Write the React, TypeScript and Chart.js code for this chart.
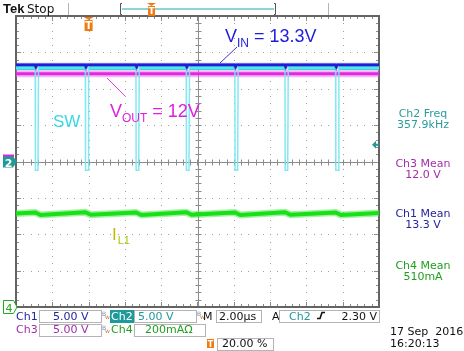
import React, { useEffect, useRef } from "react";
import { Chart, registerables } from "chart.js";
Chart.register(...registerables);

// ---- axes (time in µs, trigger at 0, 2 µs/div, 10 divisions) ----
const timeMin = -4;
const timeMax = 16;
const divMin = -4;
const divMax = 4;
const voltsPerDiv = 5; // Ch1, Ch2, Ch3
const mAPerDiv = 200; // Ch4
const ch4GroundDiv = -4;

// ---- Ch2 (SW node) edges ----
const swRiseTimes = [-2.76, 0, 2.79, 5.56, 8.24, 11.0, 13.79];
const swFallTimes = [-2.94, -0.18, 2.61, 5.38, 8.06, 10.82, 13.61];
const swHighV = 12.85;
const swLowV = -1.2;

// ---- Ch1 (VIN), Ch3 (VOUT) levels ----
const vinV = 13.3;
const vinNotchV = 13.0;
const voutV = 12.05;

// ---- Ch4 (IL1) sawtooth, mA ----
const ilStart = 514;
const ilPeaks = [520, 521, 520, 521, 520, 521, 520];
const ilTroughs = [506, 507, 506, 507, 506, 507, 506];
const ilEnd = 517;

// ---- readouts ----
const measLabels = ["Ch2 Freq", "Ch3 Mean", "Ch1 Mean", "Ch4 Mean"];
const measValues = ["357.9kHz", "12.0 V", "13.3 V", "510mA"];
const measColors = ["#2a9c9c", "#a42ca8", "#24249c", "#20a020"];

const vdiv = (v: number) => v / voltsPerDiv;
const idiv = (mA: number) => mA / mAPerDiv + ch4GroundDiv;

function buildSW() {
  const pts: any[] = [{ x: timeMin, y: vdiv(swHighV) }];
  swRiseTimes.forEach((r, i) => {
    const f = swFallTimes[i];
    pts.push({ x: f, y: vdiv(swHighV) });
    pts.push({ x: f + 0.01, y: vdiv(swLowV) });
    pts.push({ x: r - 0.03, y: vdiv(swLowV) });
    pts.push({ x: r, y: vdiv(swHighV) });
  });
  pts.push({ x: timeMax, y: vdiv(swHighV) });
  return pts;
}
function buildSWBand() {
  const pts: any[] = [{ x: timeMin, y: vdiv(swHighV) }];
  swRiseTimes.forEach((r, i) => {
    const f = swFallTimes[i];
    pts.push({ x: f, y: vdiv(swHighV) });
    pts.push({ x: (f + r) / 2, y: null });
    pts.push({ x: r, y: vdiv(swHighV) });
  });
  pts.push({ x: timeMax, y: vdiv(swHighV) });
  return pts;
}
function buildVIN() {
  const pts: any[] = [{ x: timeMin, y: vdiv(vinV) }];
  swFallTimes.forEach((f) => {
    pts.push({ x: f - 0.02, y: vdiv(vinV) });
    pts.push({ x: f + 0.04, y: vdiv(vinNotchV) });
    pts.push({ x: f + 0.1, y: vdiv(vinV) });
  });
  pts.push({ x: timeMax, y: vdiv(vinV) });
  return pts;
}
function buildVOUT() {
  return [
    { x: timeMin, y: vdiv(voutV) },
    { x: timeMax, y: vdiv(voutV) },
  ];
}
function buildIL() {
  const pts: any[] = [{ x: timeMin, y: idiv(ilStart) }];
  swFallTimes.forEach((f, i) => {
    pts.push({ x: f, y: idiv(ilPeaks[i]) });
    pts.push({ x: swRiseTimes[i] + 0.12, y: idiv(ilTroughs[i]) });
  });
  pts.push({ x: timeMax, y: idiv(ilEnd) });
  return pts;
}

const ds = (data: any[], color: string, width: number) => ({
  data,
  borderColor: color,
  borderWidth: width,
  pointRadius: 0,
  tension: 0,
  fill: false,
  spanGaps: false,
});

const scopePlugin = {
  id: "scope",
  beforeDatasetsDraw(chart: any) {
    const ctx = chart.ctx as CanvasRenderingContext2D;
    const { left, right, top, bottom } = chart.chartArea;
    const dx = (right - left) / 10;
    const dy = (bottom - top) / 8;
    ctx.save();
    ctx.fillStyle = "#ffffff";
    ctx.fillRect(0, 0, chart.width, chart.height);
    // dotted grid
    ctx.fillStyle = "#a0a0a0";
    for (let i = 1; i < 10; i++) {
      if (i === 5) continue;
      const x = Math.round(left + i * dx);
      for (let j = 1; j < 40; j++) {
        const y = Math.round(top + (j * dy) / 5);
        ctx.fillRect(x, y, 1, 1);
      }
    }
    for (let j = 1; j < 8; j++) {
      if (j === 4) continue;
      const y = Math.round(top + j * dy);
      for (let i = 1; i < 50; i++) {
        const x = Math.round(left + (i * dx) / 5);
        ctx.fillRect(x, y, 1, 1);
      }
    }
    // center cross with ticks
    ctx.strokeStyle = "#8c8c8c";
    ctx.lineWidth = 1;
    const cx = Math.round(left + 5 * dx) + 0.5;
    const cy = Math.round(top + 4 * dy) + 0.5;
    ctx.beginPath();
    ctx.moveTo(cx, top);
    ctx.lineTo(cx, bottom);
    ctx.moveTo(left, cy);
    ctx.lineTo(right, cy);
    for (let j = 1; j < 40; j++) {
      const y = Math.round(top + (j * dy) / 5) + 0.5;
      ctx.moveTo(cx - 3, y);
      ctx.lineTo(cx + 3, y);
    }
    for (let i = 1; i < 50; i++) {
      const x = Math.round(left + (i * dx) / 5) + 0.5;
      ctx.moveTo(x, cy - 3);
      ctx.lineTo(x, cy + 3);
    }
    // border ticks
    for (let i = 1; i < 50; i++) {
      const x = Math.round(left + (i * dx) / 5) + 0.5;
      const len = i % 5 === 0 ? 4 : 2;
      ctx.moveTo(x, top);
      ctx.lineTo(x, top + len + 1);
      ctx.moveTo(x, bottom);
      ctx.lineTo(x, bottom - len - 1);
    }
    for (let j = 1; j < 40; j++) {
      const y = Math.round(top + (j * dy) / 5) + 0.5;
      const len = j % 5 === 0 ? 4 : 2;
      ctx.moveTo(left, y);
      ctx.lineTo(left + len + 1, y);
      ctx.moveTo(right, y);
      ctx.lineTo(right - len - 1, y);
    }
    ctx.stroke();
    // frame
    ctx.strokeStyle = "#646464";
    ctx.lineWidth = 2;
    ctx.strokeRect(left, top, right - left, bottom - top);
    ctx.restore();
  },
  afterDraw(chart: any) {
    const ctx = chart.ctx as CanvasRenderingContext2D;
    const xs = chart.scales.x;
    const ys = chart.scales.y;
    const { top } = chart.chartArea;
    ctx.save();
    const txt = (s: string, x: number, y: number, color: string, font: string, align: CanvasTextAlign = "left") => {
      ctx.font = font;
      ctx.fillStyle = color;
      ctx.textAlign = align;
      ctx.textBaseline = "alphabetic";
      ctx.fillText(s, x, y);
      return ctx.measureText(s).width;
    };
    const sans = '"DejaVu Sans", Verdana, sans-serif';
    const arial = '"Liberation Sans", Arial, sans-serif';

    // ---- header ----
    txt("Tek", 3, 13, "#111", "bold 13px " + arial);
    txt("Stop", 27, 13, "#111", "12px " + sans);
    ctx.strokeStyle = "#b4b4b4";
    ctx.lineWidth = 1;
    ctx.beginPath();
    ctx.moveTo(68.5, 3);
    ctx.lineTo(68.5, 15);
    ctx.moveTo(328.5, 3);
    ctx.lineTo(328.5, 15);
    ctx.stroke();
    // record bracket
    ctx.strokeStyle = "#555";
    ctx.beginPath();
    ctx.moveTo(122, 3.5);
    ctx.lineTo(120.5, 3.5);
    ctx.lineTo(120.5, 14.5);
    ctx.lineTo(122, 14.5);
    ctx.moveTo(274, 3.5);
    ctx.lineTo(275.5, 3.5);
    ctx.lineTo(275.5, 14.5);
    ctx.lineTo(274, 14.5);
    ctx.stroke();
    ctx.strokeStyle = "#8fd4d4";
    ctx.lineWidth = 2;
    ctx.beginPath();
    ctx.moveTo(122, 9);
    ctx.lineTo(274, 9);
    ctx.stroke();
    const orange = "#f07a12";
    const tMark = (x: number, y: number, w: number, h: number, fs: number) => {
      ctx.fillStyle = orange;
      ctx.beginPath();
      ctx.moveTo(x - w / 2 - 1, y);
      ctx.lineTo(x + w / 2 + 1, y);
      ctx.lineTo(x, y + 3);
      ctx.closePath();
      ctx.fill();
      ctx.fillRect(x - w / 2, y + 3, w, h);
      txt("T", x, y + 3 + h - 2, "#fff", "bold " + fs + "px " + sans, "center");
    };
    tMark(151.5, 3, 7, 10, 9);
    const tx = xs.getPixelForValue(0);
    tMark(tx, top + 1, 8, 11, 10);

    // ---- channel markers ----
    const y0 = ys.getPixelForValue(0);
    ctx.fillStyle = "#d42cd4";
    ctx.fillRect(3, y0 - 7, 11, 3);
    ctx.fillStyle = "#1f9a9a";
    ctx.beginPath();
    ctx.moveTo(3, y0 - 5);
    ctx.lineTo(13, y0 - 5);
    ctx.lineTo(17, y0);
    ctx.lineTo(13, y0 + 6);
    ctx.lineTo(3, y0 + 6);
    ctx.closePath();
    ctx.fill();
    txt("2", 8.5, y0 + 5, "#fff", "bold 11px " + sans, "center");
    const y4 = ys.getPixelForValue(ch4GroundDiv);
    ctx.fillStyle = "#fff";
    ctx.strokeStyle = "#22a822";
    ctx.lineWidth = 1;
    ctx.beginPath();
    ctx.moveTo(3.5, y4 - 6.5);
    ctx.lineTo(13.5, y4 - 6.5);
    ctx.lineTo(17, y4);
    ctx.lineTo(13.5, y4 + 6.5);
    ctx.lineTo(3.5, y4 + 6.5);
    ctx.closePath();
    ctx.fill();
    ctx.stroke();
    txt("4", 9, y4 + 5, "#22a822", "11px " + sans, "center");
    // trigger level arrow
    const yt = ys.getPixelForValue(vdiv(2.3));
    ctx.fillStyle = "#1f9a9a";
    ctx.beginPath();
    ctx.moveTo(372, yt);
    ctx.lineTo(376, yt - 4);
    ctx.lineTo(376, yt + 4);
    ctx.closePath();
    ctx.fill();
    ctx.fillRect(375, yt - 1, 4, 2);

    // ---- annotations ----
    let x = 225;
    x += txt("V", x, 42, "#1c1ce0", "18px " + arial);
    x += txt("IN", x, 47, "#1c1ce0", "12px " + arial);
    txt(" = 13.3V", x, 42, "#1c1ce0", "18px " + arial);
    ctx.strokeStyle = "#3a3ad8";
    ctx.lineWidth = 1;
    ctx.beginPath();
    ctx.moveTo(237, 47);
    ctx.lineTo(220, 63);
    ctx.stroke();
    x = 110;
    x += txt("V", x, 117, "#e020e0", "18px " + arial);
    x += txt("OUT", x, 122, "#e020e0", "12px " + arial);
    txt(" = 12V", x, 117, "#e020e0", "18px " + arial);
    ctx.strokeStyle = "#e040e0";
    ctx.beginPath();
    ctx.moveTo(107, 78);
    ctx.lineTo(125, 96);
    ctx.stroke();
    txt("SW", 53, 127, "#3ad8e4", "17px " + arial);
    x = 112;
    x += txt("I", x, 240, "#c4b800", "17px " + arial);
    txt("L1", x + 1, 244, "#9cc800", "11px " + arial);

    // ---- measurements ----
    const mY = [116.5, 166.5, 217, 269];
    measLabels.forEach((l, i) => {
      txt(l, 423, mY[i], measColors[i], "11px " + sans, "center");
      txt(measValues[i], 423, mY[i] + 11, measColors[i], "11px " + sans, "center");
    });

    // ---- bottom readouts ----
    const f11 = "11px " + sans;
    const box = (bx: number, by: number, w: number, h: number) => {
      ctx.fillStyle = "#fff";
      ctx.fillRect(bx, by, w, h);
      ctx.strokeStyle = "#b4b4b4";
      ctx.lineWidth = 1;
      ctx.strokeRect(bx + 0.5, by + 0.5, w - 1, h - 1);
    };
    const bw = (bx: number, by: number) => {
      txt("B", bx, by + 5, "#7a8aa0", "6px " + sans);
      txt("w", bx + 3, by + 8, "#c08040", "6px " + sans);
    };
    const navy = "#24249c";
    const teal = "#1f9a9a";
    const purple = "#a42ca8";
    const green = "#20a020";
    const r1 = 319.5;
    const r2 = 333;
    const r3 = 347;
    txt("Ch1", 16, r1, navy, f11);
    box(39, 310, 63, 13);
    txt("5.00 V", 53, r1, navy, f11);
    bw(102, 311);
    ctx.fillStyle = teal;
    ctx.fillRect(110, 310, 24, 13);
    txt("Ch2", 111, r1, "#fff", f11);
    box(134, 310, 63, 13);
    txt("5.00 V", 138, r1, teal, f11);
    bw(197, 311);
    txt("M", 203, r1, "#111", f11);
    box(216, 310, 46, 13);
    txt("2.00µs", 219, r1, "#111", f11);
    txt("A", 272, r1, "#111", f11);
    box(279, 310, 101, 13);
    txt("Ch2", 289, r1, teal, f11);
    ctx.strokeStyle = "#111";
    ctx.lineWidth = 1.6;
    ctx.beginPath();
    ctx.moveTo(317, 318.5);
    ctx.lineTo(320, 318.5);
    ctx.lineTo(322, 312.5);
    ctx.lineTo(325, 312.5);
    ctx.stroke();
    txt("2.30 V", 377, r1, "#111", f11, "right");

    txt("Ch3", 16, r2, purple, f11);
    box(39, 324, 63, 13);
    txt("5.00 V", 53, r2, purple, f11);
    bw(102, 325);
    txt("Ch4", 111, r2, green, f11);
    box(134, 324, 72, 13);
    txt("200mAΩ", 145, r2, green, f11);

    ctx.fillStyle = orange;
    ctx.fillRect(207, 339, 7, 9);
    txt("T", 210.5, 347, "#fff", "bold 8px " + sans, "center");
    box(217, 338, 57, 13);
    txt("20.00 %", 222, r3, "#111", f11);

    txt("17 Sep  2016", 390, 335, "#111", f11);
    txt("16:20:13", 390, r3, "#111", f11);
    ctx.restore();
  },
};

export default function App() {
  const ref = useRef<HTMLCanvasElement>(null);
  useEffect(() => {
    const canvas = ref.current!;
    const chart = new Chart(canvas, {
      type: "line",
      data: {
        datasets: [
          ds(buildVIN(), "#1e1ed2", 2.5),
          ds(buildVIN(), "rgba(60,60,230,0.4)", 4),
          ds(buildSW(), "rgba(120,230,238,0.9)", 1.5),
          ds(buildSWBand(), "#30d6e0", 4),
          ds(buildVOUT(), "#e028e0", 3),
          ds(buildVOUT(), "rgba(238,110,238,0.5)", 7),
          ds(buildIL(), "#18e018", 4),
          ds(buildIL(), "rgba(70,230,70,0.5)", 7),
        ] as any,
      },
      options: {
        animation: false,
        responsive: false,
        devicePixelRatio: 1,
        events: [],
        layout: { padding: { left: 16, top: 16, right: 85, bottom: 44 } },
        scales: {
          x: { type: "linear", min: timeMin, max: timeMax, display: false },
          y: { type: "linear", min: divMin, max: divMax, display: false },
        },
        plugins: { legend: { display: false }, tooltip: { enabled: false } },
        elements: { point: { radius: 0 }, line: { tension: 0 } },
      } as any,
      plugins: [scopePlugin],
    });
    return () => chart.destroy();
  }, []);
  return (
    <div style={{ position: "fixed", left: 0, top: 0, width: 464, height: 351, background: "#fff" }}>
      <canvas ref={ref} width={464} height={351} style={{ width: 464, height: 351, display: "block" }} />
    </div>
  );
}
